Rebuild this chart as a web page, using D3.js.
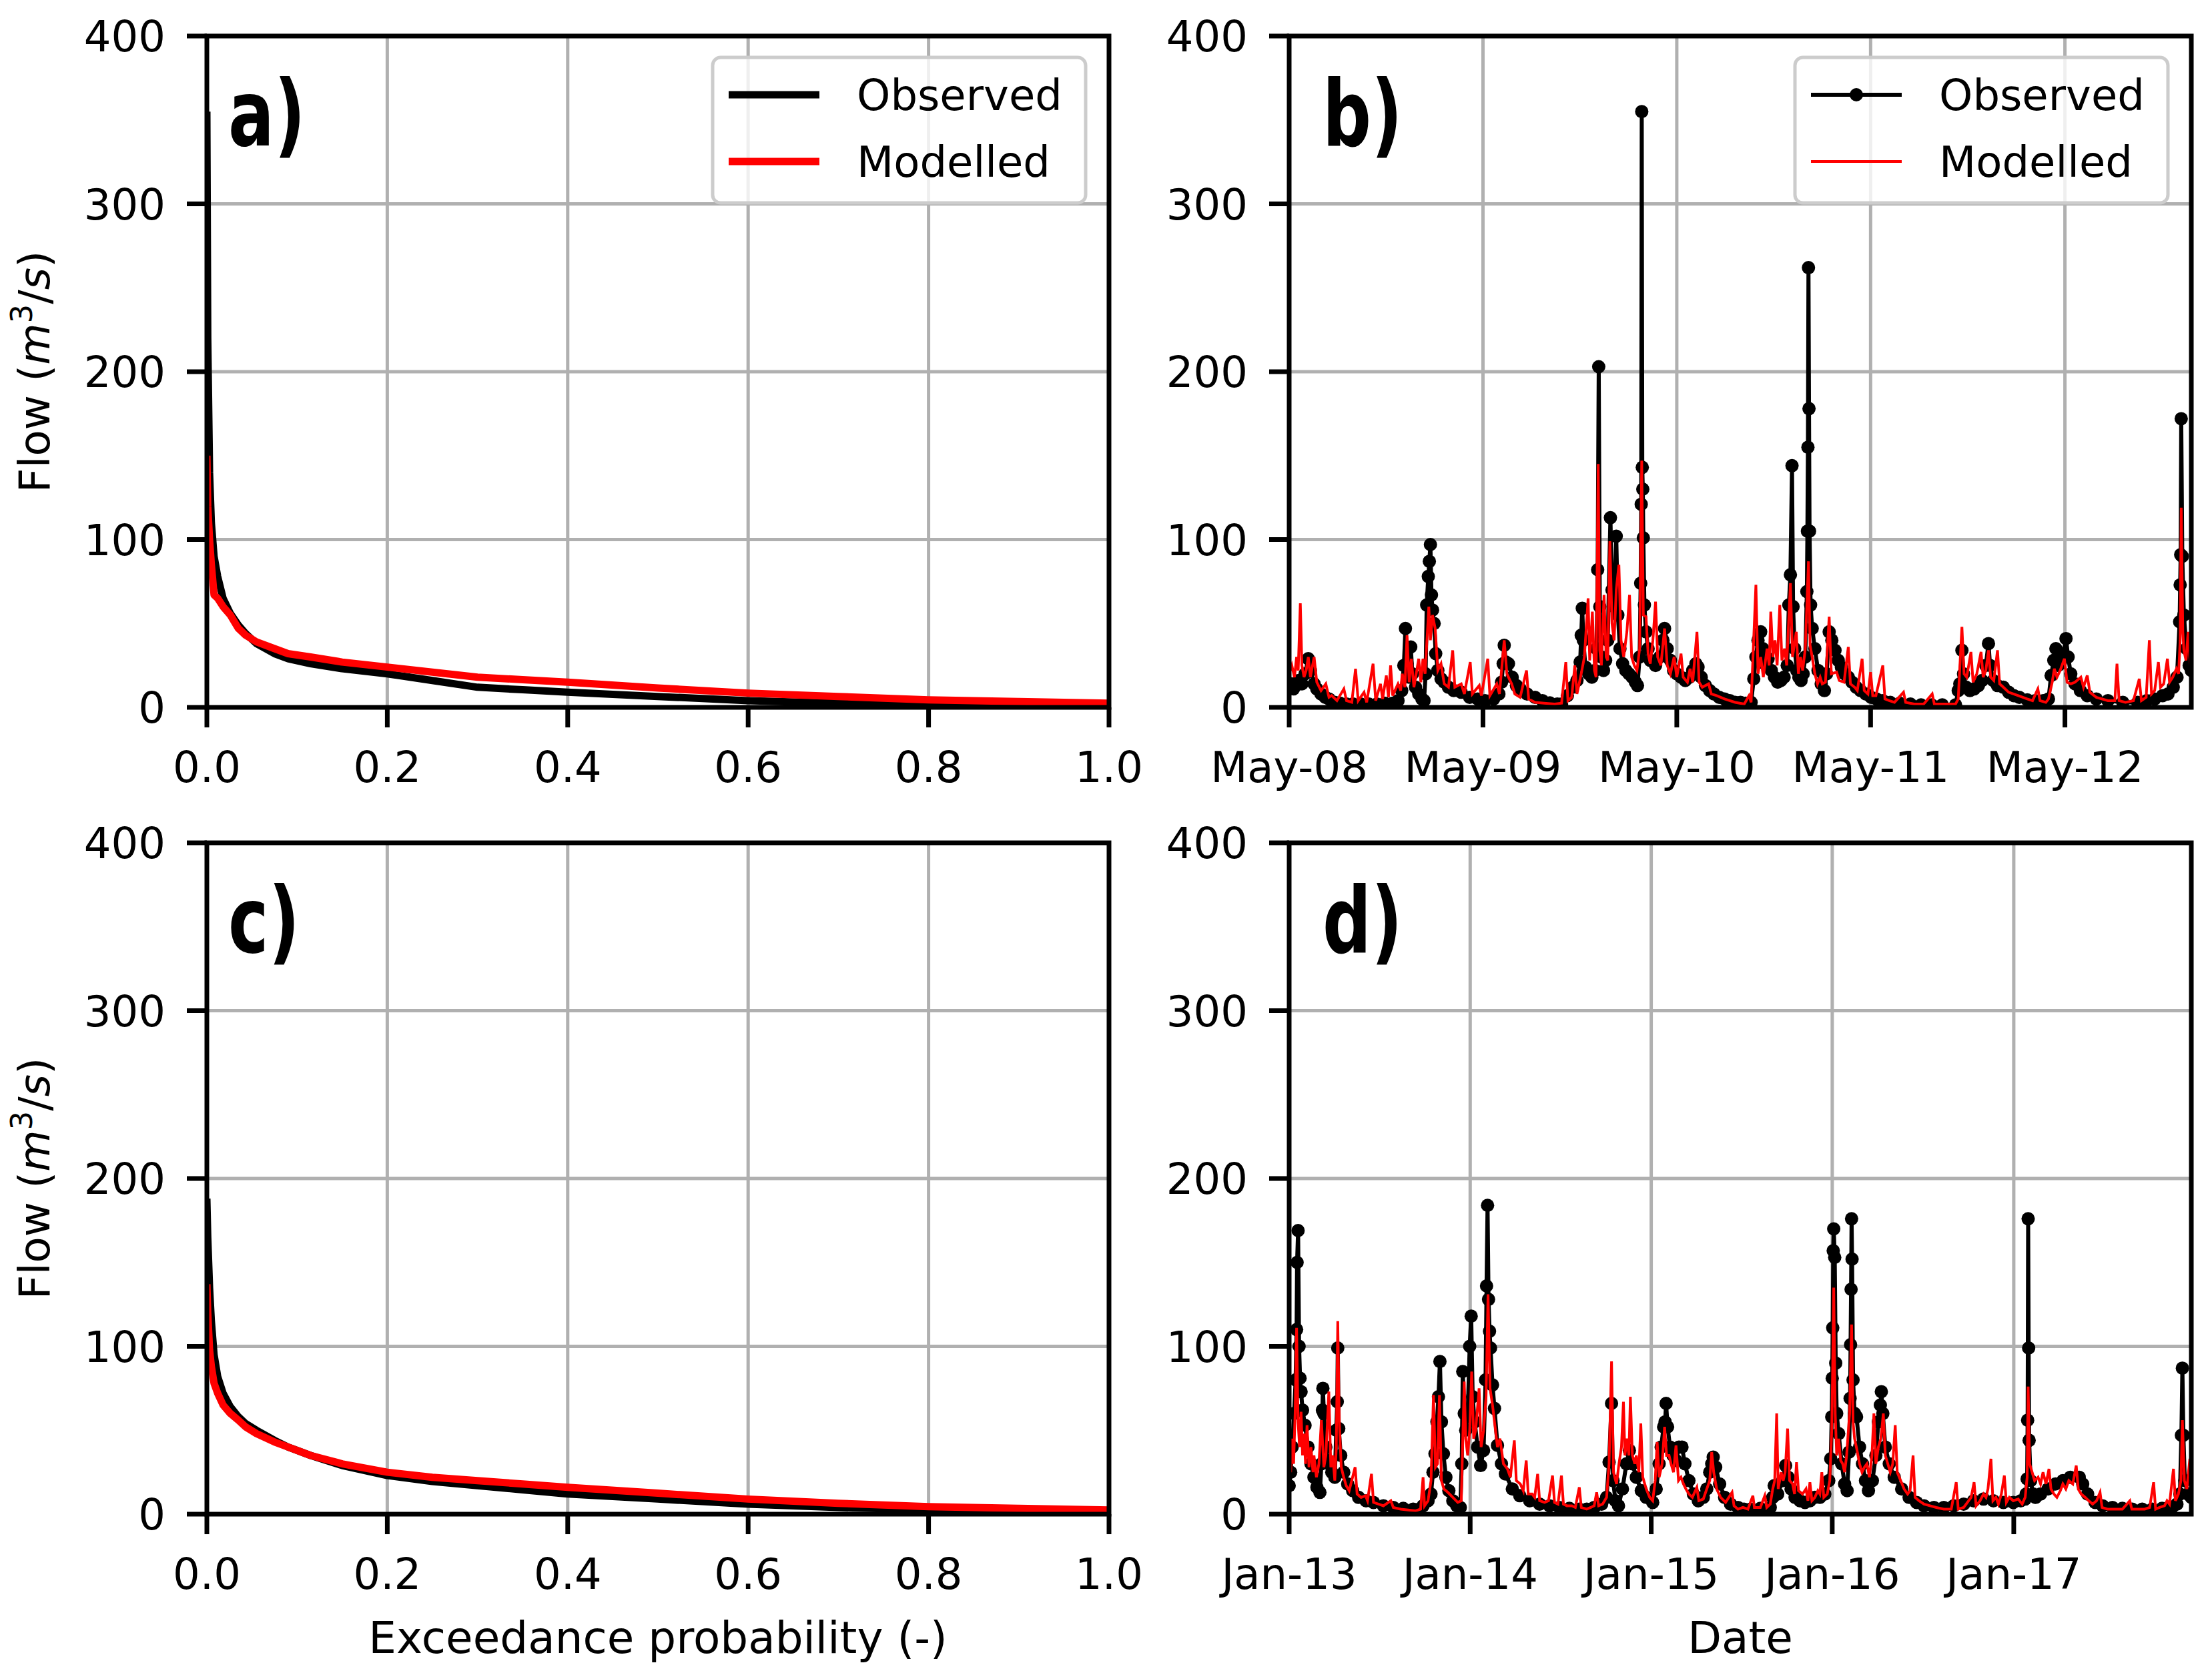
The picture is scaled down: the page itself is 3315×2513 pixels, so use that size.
<!DOCTYPE html>
<html>
<head>
<meta charset="utf-8">
<script src="https://cdn.jsdelivr.net/npm/d3@7"></script>
<style>
  body { margin: 0; background: #fff; }
  text { font-family: "DejaVu Sans", sans-serif; }
</style>
</head>
<body>
<svg id="fig" width="3315" height="2513"></svg>
<script>
// ---- flow duration curves (panels a, c) ----
const probGrid = [0, 0.001, 0.003, 0.005, 0.008, 0.012, 0.018, 0.026, 0.035, 0.043, 0.055, 0.075, 0.09,
                  0.115, 0.15, 0.2, 0.25, 0.3, 0.35, 0.4, 0.5, 0.6, 0.7, 0.8, 0.9, 1.0];
const fdcObsA = [355, 220, 140, 110, 90, 78, 65, 56, 49, 44, 38, 32, 29, 26, 23, 20, 16, 12, 10.5, 9, 6.5, 4, 2.5, 1.5, 1, 0.5];
const fdcModA = [150, 120, 100, 85, 67, 65, 60, 55, 47, 43, 39, 35, 32, 30, 27, 24, 21, 18, 16.5, 15, 11.5, 8.5, 6.5, 4.5, 3.5, 2.5];
const fdcObsC = [188, 165, 135, 115, 95, 82, 72, 64, 58, 54, 50, 44, 40, 35, 29, 23, 19.5, 17, 14.5, 12, 9, 6, 4, 2.5, 1.5, 1];
const fdcModC = [137, 120, 98, 88, 78, 72, 65, 60, 56, 52, 48, 43, 40, 35, 30, 25, 22, 20, 18, 16, 12.5, 9, 6.5, 4.5, 3.5, 2.5];

// ---- hydrographs: [days since start, flow] ----
const startB = "2008-05-01", lastDayB = 1699;
const startD = "2013-01-01", lastDayD = 1819;

const obsB = [[0,12],[4,14],[8,11],[12,13],[18,16],[24,14],[30,20],[36,29],[40,22],[47,14],[52,11],[60,8],[68,6],[75,5],
  [86,3],[96,2.5],[108,2],[120,2],[135,2],[150,2],[165,2],[180,2.5],[195,2.5],[205,4],[212,10],[216,25],[219,47],
  [222,26],[226,18],[229,36],[232,20],[238,12],[244,8],[250,5],[254,4],[257,20],[259,61],[262,78],[264,87],[266,97],
  [268,67],[270,58],[273,50],[276,32],[280,22],[286,17],[292,15],[300,12],[310,10],[324,9],[340,6],[355,5],[369,4],
  [385,5],[395,8],[400,15],[403,26],[405,37],[408,27],[413,26],[420,18],[428,13],[435,11],[448,8],[463,6],[477,4],
  [491,2.7],[505,2],[513,2],[524,7],[534,12],[542,16],[548,27],[550,43],[552,59],[554,40],[558,24],[564,20],[570,18],
  [576,22],[579,35],[581,82],[583,203],[585,60],[588,30],[592,22],[596,28],[600,40],[605,113],[608,70],[612,60],
  [616,102],[619,55],[623,35],[628,26],[634,22],[640,20],[646,18],[652,15],[656,13],[660,30],[662,74],[663,121],
  [664,355],[665,143],[666,130],[667,101],[669,61],[672,45],[676,35],[680,28],[690,25],[698,30],[704,40],[707,47],
  [712,35],[718,28],[724,22],[730,20],[738,18],[746,16],[754,18],[760,22],[766,26],[770,24],[776,18],[784,13],
  [792,10],[800,8],[810,6],[820,5],[830,4],[840,3],[850,3],[860,2.5],[870,3],[875,17],[879,30],[883,40],[888,45],
  [892,35],[896,26],[902,29],[908,22],[914,18],[920,15],[926,16],[932,18],[938,25],[941,61],[944,79],[947,144],
  [949,60],[952,35],[956,22],[960,18],[964,16],[968,20],[972,30],[975,69],[976,105],[977,155],[978,262],[979,178],
  [980,105],[982,61],[985,47],[990,35],[996,22],[1002,14],[1008,10],[1012,20],[1017,45],[1022,40],[1028,34],
  [1034,28],[1040,24],[1046,20],[1053,18],[1060,15],[1068,12],[1076,10],[1086,8],[1096,6],[1106,5],[1118,4],
  [1132,3],[1150,2.5],[1170,2],[1190,1.5],[1210,1.5],[1230,1.5],[1255,1.5],[1260,10],[1263,14],[1267,34],[1270,20],
  [1275,12],[1282,10],[1290,11],[1298,13],[1305,16],[1312,25],[1317,38],[1320,25],[1326,16],[1334,13],[1345,12],
  [1355,9],[1365,7],[1375,6],[1390,4.5],[1405,4],[1420,4],[1430,5],[1435,19],[1440,28],[1444,35],[1448,25],
  [1452,26],[1458,32],[1463,41],[1467,30],[1472,20],[1480,14],[1490,10],[1503,7],[1520,5],[1542,4],[1570,3],
  [1598,3],[1615,4],[1630,5],[1645,7],[1655,8],[1665,12],[1672,18],[1677,51],[1678,73],[1679,91],[1680,172],
  [1682,90],[1685,55],[1690,35],[1695,25],[1699,22]];

const modB = [[0,20],[5,25],[10,18],[14,30],[17,22],[21,62],[24,25],[28,18],[32,22],[36,30],[40,18],[47,30],[52,15],
  [60,10],[69,14],[75,6],[80,7],[90,4],[103,11],[108,4],[118,3],[125,23],[130,4],[141,9],[146,3],[158,26],[163,4],
  [172,14],[176,5],[183,19],[187,6],[191,25],[195,7],[205,14],[210,10],[213,20],[218,12],[222,43],[226,15],[230,29],
  [235,12],[244,29],[248,15],[252,29],[256,20],[263,60],[266,40],[270,55],[275,47],[280,22],[286,26],[292,14],
  [300,12],[308,34],[312,12],[324,14],[330,8],[341,27],[345,8],[358,13],[362,7],[374,29],[378,7],[391,14],[396,8],
  [405,40],[410,20],[419,14],[425,8],[435,6],[447,22],[451,5],[463,3],[480,2.5],[500,2],[513,2.5],[521,27],[525,4],
  [532,6],[538,25],[542,8],[546,14],[550,20],[556,30],[563,65],[566,28],[571,57],[575,22],[578,18],[582,145],
  [585,34],[588,25],[593,67],[597,30],[600,28],[604,99],[608,50],[612,40],[616,70],[621,85],[625,40],[630,30],
  [636,45],[641,67],[645,30],[650,25],[655,22],[660,35],[664,147],[667,55],[672,54],[676,32],[680,26],[685,40],
  [690,63],[694,30],[700,25],[707,47],[712,25],[718,20],[725,30],[730,18],[738,32],[742,18],[750,15],[755,23],
  [760,15],[768,45],[772,15],[778,12],[790,14],[795,8],[805,7],[820,5],[840,3],[857,2],[866,7],[870,3],[879,73],
  [883,20],[888,30],[893,18],[900,35],[904,25],[907,57],[911,30],[915,40],[919,25],[924,61],[928,28],[933,35],
  [937,25],[944,74],[948,30],[955,45],[959,20],[963,30],[967,22],[972,35],[978,87],[981,37],[985,30],[990,20],
  [995,14],[1000,18],[1004,14],[1010,15],[1017,54],[1021,20],[1031,21],[1036,16],[1045,15],[1053,36],[1057,14],
  [1065,12],[1070,10],[1079,29],[1083,10],[1090,8],[1095,21],[1099,7],[1105,7],[1118,25],[1122,5],[1130,4],
  [1140,3],[1157,9],[1161,3],[1177,2],[1195,2],[1211,8],[1215,2],[1233,2],[1255,2],[1260,5],[1267,48],[1271,20],
  [1276,18],[1284,33],[1288,15],[1295,20],[1303,33],[1307,18],[1312,22],[1317,34],[1321,18],[1327,16],[1334,34],
  [1338,14],[1345,12],[1355,9],[1373,7],[1390,5],[1400,4],[1410,11],[1414,4],[1425,3],[1430,5],[1437,15],
  [1441,23],[1446,18],[1452,22],[1460,29],[1465,15],[1472,14],[1480,15],[1491,18],[1496,12],[1503,19],[1508,9],
  [1520,6],[1542,4],[1555,4],[1559,26],[1563,4],[1575,3],[1590,4],[1601,17],[1605,4],[1614,6],[1620,40],[1624,8],
  [1630,10],[1637,27],[1641,12],[1647,14],[1654,29],[1658,15],[1664,18],[1671,23],[1675,20],[1678,40],[1680,119],
  [1683,45],[1685,34],[1689,28],[1693,45],[1696,30],[1699,21]];

const obsD = [[0,17],[3,25],[6,40],[10,60],[13,80],[15,110],[16,150],[18,169],[20,100],[22,81],[24,73],[27,62],
  [32,53],[38,40],[44,30],[50,22],[56,16],[62,13],[65,30],[67,62],[68,75],[70,60],[74,40],[80,30],[86,25],[92,22],
  [95,50],[97,67],[98,99],[100,51],[104,35],[110,25],[118,18],[128,14],[140,10],[155,8],[170,7],[190,5],[210,4],
  [230,3.5],[250,3],[262,3],[270,5],[280,8],[286,12],[290,25],[294,36],[298,55],[301,70],[304,91],[307,55],
  [311,36],[316,22],[322,14],[330,8],[338,5],[345,4],[348,30],[350,85],[353,60],[356,50],[360,60],[364,100],
  [367,118],[370,70],[374,55],[380,40],[386,29],[392,38],[396,80],[398,136],[400,184],[402,128],[404,109],
  [406,99],[410,77],[414,63],[420,41],[428,30],[436,24],[450,15],[465,11],[485,8],[505,6],[525,5],[545,4],
  [565,3.5],[585,3],[600,3],[615,4],[630,6],[640,10],[645,31],[650,66],[653,20],[658,8],[664,5],[672,15],
  [680,30],[686,38],[692,30],[700,22],[710,14],[720,10],[733,7],[740,15],[746,30],[750,40],[755,52],[758,55],
  [760,66],[763,52],[768,40],[774,35],[780,32],[786,40],[792,40],[798,30],[806,20],[815,12],[825,8],[835,10],
  [842,15],[848,25],[852,30],[855,34],[860,28],[868,18],[878,10],[890,6],[905,4],[917,3],[930,3],[950,3.5],
  [970,4],[975,10],[978,17],[985,12],[995,20],[1001,29],[1006,22],[1012,15],[1020,10],[1030,8],[1040,7],
  [1050,8],[1060,10],[1070,10],[1080,12],[1088,20],[1092,33],[1094,58],[1095,81],[1096,111],[1097,157],
  [1098,170],[1100,153],[1102,90],[1104,60],[1108,48],[1114,30],[1120,18],[1125,14],[1129,37],[1131,69],
  [1132,101],[1133,134],[1134,176],[1135,152],[1137,80],[1140,60],[1144,58],[1150,40],[1156,30],[1162,20],
  [1168,14],[1176,20],[1183,35],[1188,55],[1192,65],[1194,73],[1197,60],[1202,40],[1210,30],[1220,22],[1235,15],
  [1250,10],[1265,7],[1280,5],[1300,4],[1320,4],[1340,5],[1360,6],[1380,8],[1400,9],[1420,8],[1440,7],[1460,7],
  [1475,8],[1484,9],[1486,12],[1488,21],[1489,56],[1490,176],[1491,99],[1492,44],[1495,20],[1500,12],[1505,10],
  [1515,12],[1530,15],[1545,18],[1560,20],[1575,22],[1593,22],[1600,18],[1610,12],[1625,7],[1640,5],[1660,4],
  [1680,3.5],[1700,3],[1720,3],[1740,3],[1760,3.5],[1780,4],[1790,6],[1796,12],[1799,47],[1801,87],[1803,47],
  [1806,20],[1812,12],[1819,10]];

const modD = [[0,41],[3,25],[6,45],[9,30],[12,60],[15,111],[18,55],[21,40],[24,61],[27,35],[30,48],[33,30],[36,53],
  [40,28],[44,40],[48,25],[50,35],[55,22],[60,30],[65,56],[70,28],[74,35],[80,73],[84,28],[88,35],[92,20],[95,40],
  [98,115],[101,55],[105,28],[110,22],[115,17],[121,14],[133,28],[137,12],[145,10],[154,11],[158,8],[166,24],
  [170,7],[180,6],[190,5],[205,8],[210,4],[225,3],[240,2.5],[255,2],[265,3],[270,22],[273,5],[280,8],[286,20],
  [291,71],[295,28],[299,30],[303,71],[307,20],[312,15],[320,13],[330,10],[340,7],[347,8],[353,79],[356,45],
  [360,35],[364,50],[368,85],[372,45],[376,50],[383,75],[387,40],[392,50],[397,70],[401,131],[405,75],[410,65],
  [414,55],[420,40],[425,45],[432,30],[440,27],[446,22],[454,44],[458,20],[466,18],[472,14],[478,32],[482,12],
  [490,12],[495,10],[501,24],[505,8],[515,7],[523,8],[531,23],[535,7],[542,6],[549,23],[553,6],[560,5],[570,5],
  [577,4],[585,16],[589,4],[600,3],[608,4],[615,5],[620,13],[624,5],[632,6],[640,10],[645,30],[650,91],[654,25],
  [660,18],[665,30],[670,40],[674,67],[677,35],[681,45],[685,35],[688,70],[692,35],[697,30],[700,35],[705,25],
  [709,54],[713,22],[720,15],[727,10],[733,8],[738,20],[742,43],[746,22],[752,30],[757,52],[761,35],[766,35],
  [770,30],[775,25],[780,41],[785,20],[790,22],[795,18],[800,15],[806,12],[813,10],[822,16],[826,8],[835,9],
  [842,15],[848,20],[852,37],[856,25],[862,15],[870,10],[880,7],[893,13],[897,5],[905,3],[915,4],[925,3],[935,11],
  [938,4],[950,4],[959,11],[963,4],[970,6],[975,15],[979,20],[983,60],[986,15],[992,25],[996,20],[1000,25],
  [1005,51],[1009,20],[1015,18],[1019,12],[1023,31],[1027,14],[1035,12],[1042,15],[1046,8],[1050,19],[1054,8],
  [1060,10],[1066,14],[1070,12],[1074,25],[1078,10],[1085,12],[1090,20],[1094,50],[1096,90],[1098,135],[1101,60],
  [1104,35],[1108,45],[1112,32],[1116,30],[1120,25],[1124,35],[1130,60],[1134,113],[1137,55],[1140,45],[1145,38],
  [1150,30],[1155,25],[1160,28],[1165,30],[1170,22],[1175,35],[1179,60],[1183,30],[1188,40],[1193,45],[1198,60],
  [1202,35],[1207,30],[1212,25],[1217,30],[1222,53],[1226,25],[1233,20],[1240,15],[1247,12],[1252,14],[1258,35],
  [1262,10],[1270,8],[1280,6],[1292,5],[1305,4],[1320,3],[1335,3],[1345,19],[1349,3],[1360,4],[1370,8],[1375,10],
  [1381,19],[1385,5],[1393,8],[1400,12],[1405,10],[1409,15],[1415,33],[1419,8],[1425,10],[1430,6],[1436,12],
  [1442,23],[1446,7],[1452,10],[1460,8],[1470,9],[1478,6],[1484,10],[1488,22],[1490,76],[1493,30],[1498,25],
  [1503,20],[1510,22],[1515,18],[1520,25],[1526,18],[1532,27],[1536,15],[1542,12],[1548,10],[1555,14],[1560,18],
  [1566,15],[1572,20],[1580,18],[1587,29],[1591,15],[1597,12],[1605,10],[1612,8],[1620,6],[1628,8],[1635,13],
  [1639,4],[1650,3],[1665,3],[1680,3],[1695,8],[1699,3],[1712,3],[1725,3],[1735,4],[1743,19],[1747,3],[1755,4],
  [1765,5],[1770,8],[1775,6],[1783,27],[1787,8],[1793,12],[1798,20],[1801,56],[1805,20],[1810,15],[1816,33],
  [1819,21]];

// ---- ticks and labels ----
const flowTicks = [0, 100, 200, 300, 400];
const probTicks = [0, 0.2, 0.4, 0.6, 0.8, 1.0];
const dateTicksB = ["2008-05-01", "2009-05-01", "2010-05-01", "2011-05-01", "2012-05-01"];
const dateTicksD = ["2013-01-01", "2014-01-01", "2015-01-01", "2016-01-01", "2017-01-01"];
const seriesNames = ["Observed", "Modelled"];
const panelLetters = ["a)", "b)", "c)", "d)"];

const W = 3315, H = 2513;
const pw = 1352, ph = 1006;
const FS = 64;

const svg = d3.select("#fig");
svg.append("rect").attr("width", W).attr("height", H).attr("fill", "#fff");

const parse = d3.utcParse("%Y-%m-%d");
const dayToDate = (s, d) => d3.utcDay.offset(parse(s), d);

const y = d3.scaleLinear().domain([0, 400]).range([ph, 0]);

function frame(id, left, top, x, xTicks, xFmt) {
  const g = svg.append("g").attr("transform", `translate(${left},${top})`);
  svg.append("clipPath").attr("id", "clip" + id)
    .append("rect").attr("width", pw).attr("height", ph);

  // grid
  const grid = g.append("g").attr("stroke", "#b0b0b0").attr("stroke-width", 5);
  grid.selectAll(".gx").data(xTicks).join("line")
    .attr("x1", d => x(d)).attr("x2", d => x(d)).attr("y1", 0).attr("y2", ph);
  grid.selectAll(".gy").data(flowTicks).join("line")
    .attr("x1", 0).attr("x2", pw).attr("y1", d => y(d)).attr("y2", d => y(d));

  const plot = g.append("g").attr("clip-path", `url(#clip${id})`);
  const over = g.append("g");

  // spines and ticks (on top of data)
  over.append("rect").attr("width", pw).attr("height", ph)
    .attr("fill", "none").attr("stroke", "#000").attr("stroke-width", 7);
  over.selectAll(".ty").data(flowTicks).join("line")
    .attr("x1", -30).attr("x2", 0).attr("y1", d => y(d)).attr("y2", d => y(d))
    .attr("stroke", "#000").attr("stroke-width", 7);
  over.selectAll(".tx").data(xTicks).join("line")
    .attr("x1", d => x(d)).attr("x2", d => x(d)).attr("y1", ph).attr("y2", ph + 30)
    .attr("stroke", "#000").attr("stroke-width", 7);
  over.selectAll(".ly").data(flowTicks).join("text")
    .attr("x", -62).attr("y", d => y(d)).attr("dy", "0.36em")
    .attr("text-anchor", "end").attr("font-size", FS).text(d => d);
  over.selectAll(".lx").data(xTicks).join("text")
    .attr("x", d => x(d)).attr("y", ph + 112)
    .attr("text-anchor", "middle").attr("font-size", FS).text(xFmt);
  return { g, plot, over };
}

// bold panel letters, squeezed to match the narrow face in the original
function panelLabel(over, txt, dx) {
  over.append("text").attr("transform", `translate(${dx},164) scale(0.74,1)`)
    .attr("font-family", "'Open Sans', sans-serif").attr("font-weight", 700)
    .attr("font-size", 138).text(txt);
}

function legend(over, withMarker) {
  const lg = over.append("g").attr("transform", `translate(${pw - 35 - 559},32)`);
  lg.append("rect").attr("width", 559).attr("height", 218).attr("rx", 12)
    .attr("fill", "#fff").attr("fill-opacity", 0.8)
    .attr("stroke", "#cccccc").attr("stroke-width", 5);
  const rows = lg.selectAll("g.row").data(seriesNames).join("g")
    .attr("transform", (d, i) => `translate(0,${56 + i * 100})`);
  rows.append("line").attr("x1", 24).attr("x2", 160)
    .attr("stroke", (d, i) => i ? "#ff0000" : "#000")
    .attr("stroke-width", (d, i) => withMarker ? (i ? 4 : 6) : 11);
  if (withMarker) rows.filter((d, i) => i === 0).append("circle")
    .attr("cx", 92).attr("r", 10).attr("fill", "#000");
  rows.append("text").attr("x", 216).attr("y", 23).attr("font-size", FS).text(d => d);
}

function yLabel(top) {
  const t = svg.append("text")
    .attr("transform", `translate(74,${top + ph / 2}) rotate(-90)`)
    .attr("text-anchor", "middle").attr("font-size", FS);
  t.append("tspan").text("Flow (");
  t.append("tspan").attr("font-style", "italic").text("m");
  t.append("tspan").attr("font-size", 45).attr("dy", -26).text("3");
  t.append("tspan").attr("dy", 26).text("/");
  t.append("tspan").attr("font-style", "italic").text("s");
  t.append("tspan").text(")");
}

// ---- panels a and c: flow duration curves ----
const xp = d3.scaleLinear().domain([0, 1]).range([0, pw]);
const fdcLine = vals => d3.line().x((d, i) => xp(probGrid[i])).y(d => y(d))(vals);

[["a", 54, fdcObsA, fdcModA, 0], ["c", 1263, fdcObsC, fdcModC, 2]].forEach(([id, top, obs, mod, li]) => {
  const f = frame(id, 310, top, xp, probTicks, d => d.toFixed(1));
  f.plot.append("path").attr("d", fdcLine(obs)).attr("fill", "none")
    .attr("stroke", "#000").attr("stroke-width", 11).attr("stroke-linejoin", "round");
  f.plot.append("path").attr("d", fdcLine(mod)).attr("fill", "none")
    .attr("stroke", "#ff0000").attr("stroke-width", 11).attr("stroke-linejoin", "round");
  panelLabel(f.over, panelLetters[li], 32);
  if (id === "a") legend(f.over, false);
  yLabel(top);
});

// ---- panels b and d: hydrographs ----
[["b", 54, startB, lastDayB, obsB, modB, dateTicksB, 1], ["d", 1263, startD, lastDayD, obsD, modD, dateTicksD, 3]]
  .forEach(([id, top, s0, last, obs, mod, ticks, li]) => {
    const xt = d3.scaleUtc().domain([parse(s0), dayToDate(s0, last)]).range([0, pw]);
    const f = frame(id, 1932, top, xt, ticks.map(parse), d3.utcFormat("%b-%y"));
    const line = d3.line().x(d => xt(dayToDate(s0, d[0]))).y(d => y(d[1]));
    f.plot.append("path").attr("d", line(obs)).attr("fill", "none")
      .attr("stroke", "#000").attr("stroke-width", 6).attr("stroke-linejoin", "round");
    f.plot.selectAll("circle").data(obs).join("circle")
      .attr("cx", d => xt(dayToDate(s0, d[0]))).attr("cy", d => y(d[1]))
      .attr("r", 10).attr("fill", "#000");
    f.plot.append("path").attr("d", line(mod)).attr("fill", "none")
      .attr("stroke", "#ff0000").attr("stroke-width", 4).attr("stroke-linejoin", "miter");
    panelLabel(f.over, panelLetters[li], 50);
    if (id === "b") legend(f.over, true);
  });

// axis titles
svg.append("text").attr("x", 310 + pw / 2).attr("y", 2477).attr("text-anchor", "middle")
  .attr("font-size", 66).text("Exceedance probability (-)");
svg.append("text").attr("x", 1932 + pw / 2).attr("y", 2477).attr("text-anchor", "middle")
  .attr("font-size", 66).text("Date");
</script>
</body>
</html>
